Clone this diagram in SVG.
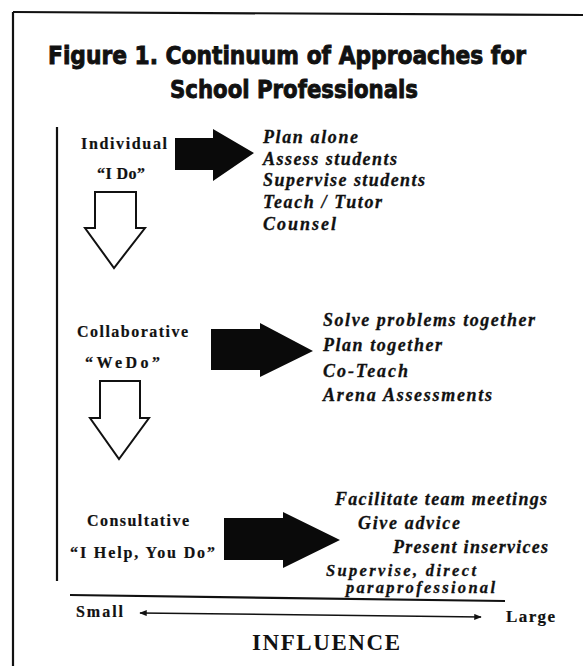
<svg xmlns="http://www.w3.org/2000/svg" width="583" height="666" viewBox="0 0 583 666">
<style>
.title{font-family:"DejaVu Sans","Liberation Sans",sans-serif;font-weight:bold;font-size:24px;fill:#111;stroke:#111;stroke-width:0.9}
.lbl{font-family:"Liberation Serif","DejaVu Serif",serif;font-weight:bold;font-size:16px;fill:#111;stroke:#111;stroke-width:0.2}
.item{font-family:"Liberation Serif","DejaVu Serif",serif;font-weight:bold;font-style:italic;font-size:18px;fill:#111;stroke:#111;stroke-width:0.3}
.sm{font-size:16.5px}
.infl{font-family:"Liberation Serif","DejaVu Serif",serif;font-weight:bold;font-size:23px;fill:#111}
.frame{stroke:#111;stroke-width:2.2;fill:none}
.black{fill:#0a0a0a;stroke:none}
.white{fill:#fff;stroke:#111;stroke-width:2;stroke-linejoin:miter}
</style>
<defs>
<marker id="ah" viewBox="0 0 10 8" refX="9" refY="4" markerWidth="9" markerHeight="6" markerUnits="userSpaceOnUse" orient="auto-start-reverse">
<path d="M0,0 L10,4 L0,8 Z" fill="#111"/>
</marker>
</defs>
<rect width="583" height="666" fill="#fff"/>
<g id="frame">
<line class="frame" x1="13" y1="12" x2="583" y2="15"/>
<line class="frame" x1="13" y1="12" x2="13" y2="666"/>
<line class="frame" x1="57" y1="127" x2="57" y2="581"/>
</g>
<g id="title">
<text class="title" x="48" y="64" textLength="478" lengthAdjust="spacingAndGlyphs">Figure 1. Continuum of Approaches for</text>
<text class="title" x="170" y="98" textLength="248" lengthAdjust="spacingAndGlyphs">School Professionals</text>
</g>
<g id="individual">
<text class="lbl" x="81" y="149" textLength="86" lengthAdjust="spacing">Individual</text>
<text class="lbl" x="97" y="179" textLength="48" lengthAdjust="spacing">“I Do”</text>
</g>
<g id="individual-items">
<text class="item" x="263" y="143" textLength="95" lengthAdjust="spacing">Plan alone</text>
<text class="item" x="263" y="165" textLength="134" lengthAdjust="spacing">Assess students</text>
<text class="item" x="263" y="186" textLength="162" lengthAdjust="spacing">Supervise students</text>
<text class="item" x="263" y="208" textLength="119" lengthAdjust="spacing">Teach / Tutor</text>
<text class="item" x="263" y="230" textLength="73" lengthAdjust="spacing">Counsel</text>
</g>
<g id="collaborative">
<text class="lbl" x="77" y="337" textLength="111" lengthAdjust="spacing">Collaborative</text>
<text class="lbl" x="85" y="368" textLength="75" lengthAdjust="spacing">“WeDo”</text>
</g>
<g id="collaborative-items">
<text class="item" x="323" y="326" textLength="212" lengthAdjust="spacing">Solve problems together</text>
<text class="item" x="323" y="351" textLength="119" lengthAdjust="spacing">Plan together</text>
<text class="item" x="323" y="377" textLength="85" lengthAdjust="spacing">Co-Teach</text>
<text class="item" x="323" y="401" textLength="169" lengthAdjust="spacing">Arena Assessments</text>
</g>
<g id="consultative">
<text class="lbl" x="87" y="526" textLength="102" lengthAdjust="spacing">Consultative</text>
<text class="lbl" x="70" y="558" textLength="145" lengthAdjust="spacing">“I Help, You Do”</text>
</g>
<g id="consultative-items">
<text class="item" x="335" y="505" textLength="212" lengthAdjust="spacing">Facilitate team meetings</text>
<text class="item" x="358" y="529" textLength="102" lengthAdjust="spacing">Give advice</text>
<text class="item" x="393" y="553" textLength="155" lengthAdjust="spacing">Present inservices</text>
<text class="item sm" x="326" y="576" textLength="150" lengthAdjust="spacing">Supervise, direct</text>
<text class="item sm" x="346" y="593" textLength="149" lengthAdjust="spacing">paraprofessional</text>
</g>
<g id="influence">
<text class="lbl" x="76" y="617" textLength="47" lengthAdjust="spacing" style="font-size:16px">Small</text>
<text class="lbl" x="506" y="622" textLength="49" lengthAdjust="spacing" style="font-size:17px">Large</text>
<text class="infl" x="252" y="650" textLength="148" lengthAdjust="spacing">INFLUENCE</text>
</g>
<g id="connectors">
<polygon class="black" points="175,138 213,138 213,129 254,153 213,181 213,170 175,170"/>
<polygon class="black" points="211,329 260,329 260,323 313,351 260,377 260,370 211,370"/>
<polygon class="black" points="224,518 283,518 283,512 340,540 283,568 283,560 224,560"/>
<polygon class="white" points="95,192 136,192 136,228 145,228 114,268 85,228 95,228"/>
<polygon class="white" points="100,381 140,381 140,418 149,418 119,459 90,418 100,418"/>
<line class="frame" x1="70" y1="595" x2="505" y2="601"/>
<line x1="140" y1="613" x2="481" y2="617" stroke="#111" stroke-width="1.5" marker-start="url(#ah)" marker-end="url(#ah)"/>
</g>
</svg>
